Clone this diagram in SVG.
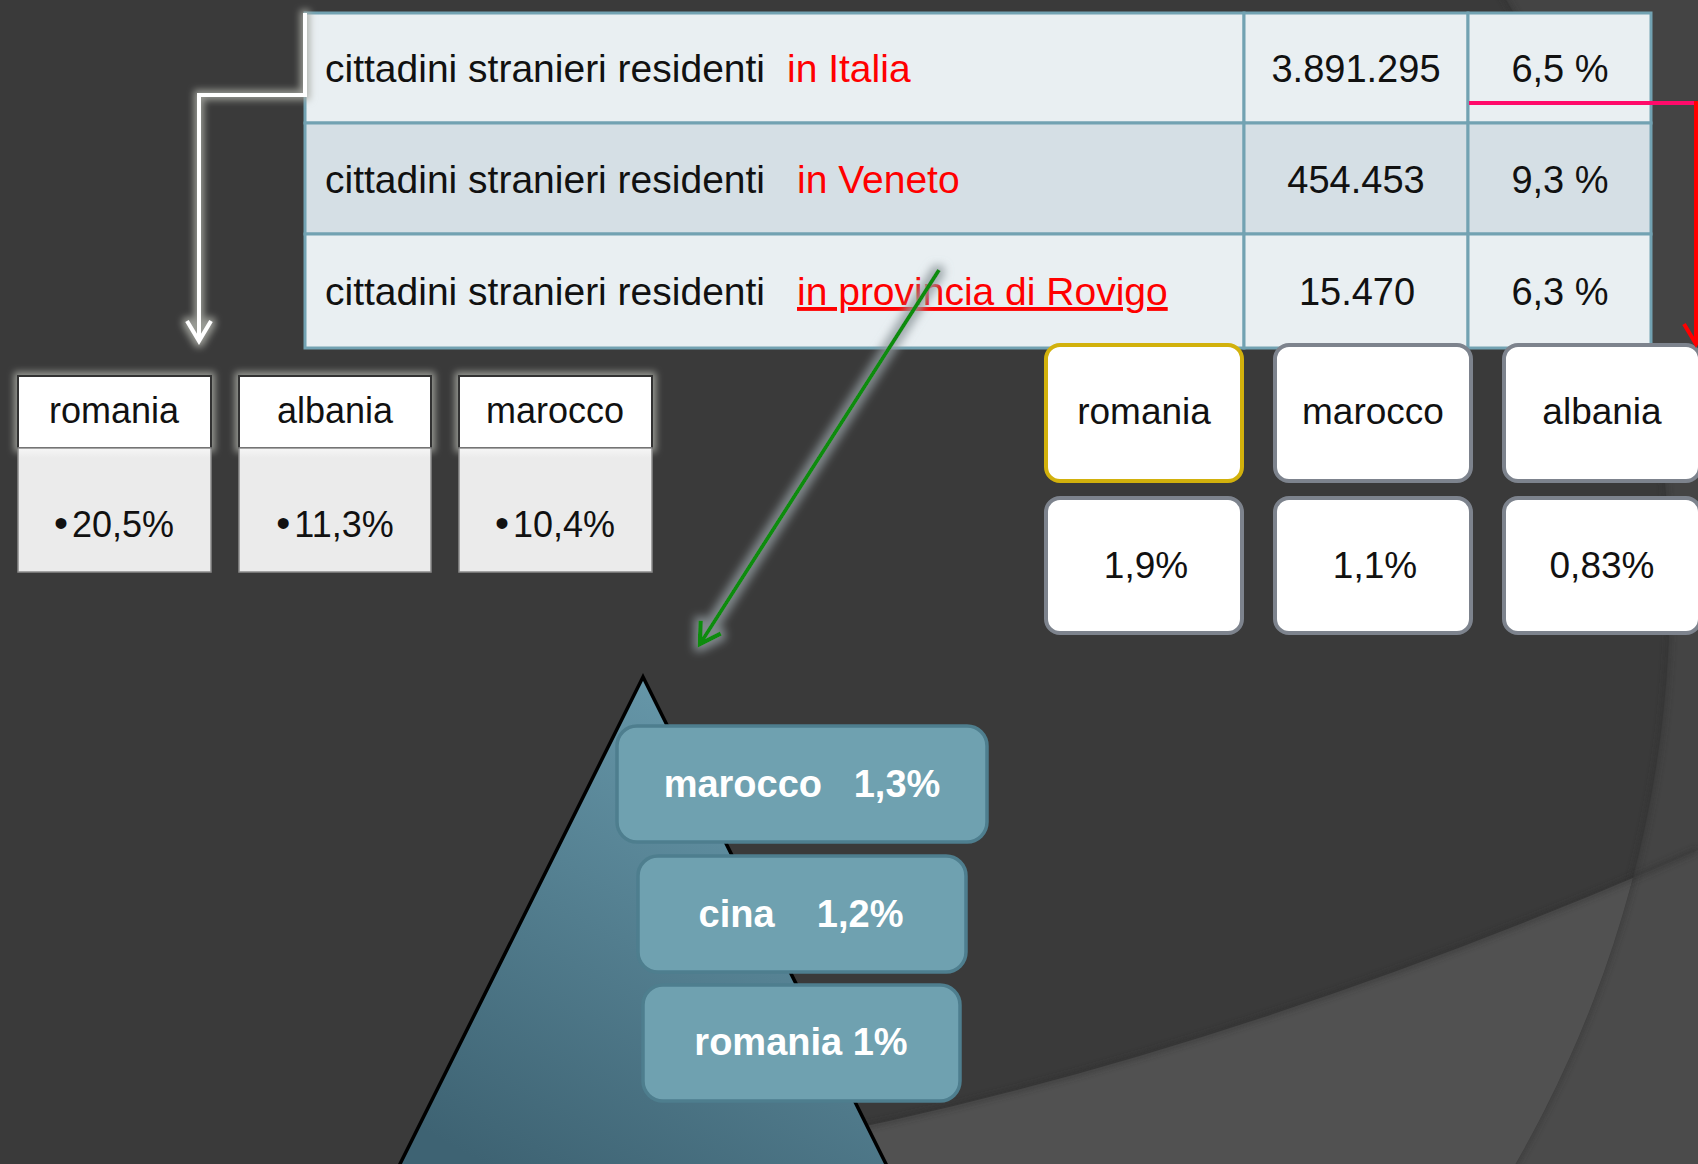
<svg xmlns="http://www.w3.org/2000/svg" width="1698" height="1164" viewBox="0 0 1698 1164">
<defs>
<style>
text{font-family:"Liberation Sans",Arial,sans-serif;}
.cell1{fill:#e9eff2;stroke:#72a2b2;stroke-width:3;}
.cell2{fill:#d5dfe5;stroke:#72a2b2;stroke-width:3;}
.tt{font-size:39px;fill:#111;}
.num{font-size:38px;fill:#111;text-anchor:middle;}
.red{fill:#ff0000;}
.hdr{fill:#ffffff;stroke:#333333;stroke-width:2;}
.body{fill:url(#bodyGrad);stroke:#8a8a8a;stroke-width:1.5;}
.lbl{font-size:36px;fill:#111;text-anchor:middle;}
.bul{font-size:40px;}
.rbox{fill:#ffffff;stroke:#7d838d;stroke-width:4;}
.gold{stroke:#d2b10c;}
.rlbl{font-size:37px;fill:#111;text-anchor:middle;}
.pbox{fill:#6fa1b0;stroke:#4e7e8e;stroke-width:3.5;}
.plbl{font-size:38px;font-weight:bold;fill:#ffffff;text-anchor:middle;}
.conn{fill:none;stroke-width:4;}
</style>
<linearGradient id="bodyGrad" x1="0" y1="0" x2="0" y2="1">
<stop offset="0" stop-color="#f6f6f6"/>
<stop offset="0.08" stop-color="#ebebeb"/>
<stop offset="1" stop-color="#ebebeb"/>
</linearGradient>
<linearGradient id="pyrGrad" x1="0.75" y1="0" x2="0.2" y2="1">
<stop offset="0" stop-color="#6a9cae"/>
<stop offset="1" stop-color="#3e6373"/>
</linearGradient>
<clipPath id="circClip"><ellipse cx="357" cy="590" rx="1313" ry="1220"/></clipPath>
<filter id="glow" filterUnits="userSpaceOnUse" x="0" y="0" width="1698" height="1164">
<feMorphology in="SourceAlpha" operator="dilate" radius="3" result="d"/>
<feGaussianBlur in="d" stdDeviation="3.5" result="b"/>
<feFlood flood-color="#a9aba4" flood-opacity="0.85"/>
<feComposite in2="b" operator="in" result="g"/>
<feMerge><feMergeNode in="g"/><feMergeNode in="SourceGraphic"/></feMerge>
</filter>
<filter id="glowG" filterUnits="userSpaceOnUse" x="0" y="0" width="1698" height="1164">
<feMorphology in="SourceAlpha" operator="dilate" radius="4" result="d"/>
<feGaussianBlur in="d" stdDeviation="4" result="b"/>
<feFlood flood-color="#909a9e" flood-opacity="0.8"/>
<feComposite in2="b" operator="in" result="g"/>
<feMerge><feMergeNode in="g"/><feMergeNode in="SourceGraphic"/></feMerge>
</filter>
<filter id="soft" x="-10%" y="-10%" width="120%" height="120%">
<feGaussianBlur stdDeviation="3"/>
</filter>
<marker id="arrW" markerUnits="userSpaceOnUse" viewBox="-26 -15 30 30" refX="0" refY="0" markerWidth="30" markerHeight="30" orient="auto" overflow="visible">
<path d="M-20,-12 L0,0 L-20,12" fill="none" stroke="#ffffff" stroke-width="4"/>
</marker>
<marker id="arrR" markerUnits="userSpaceOnUse" viewBox="-26 -15 30 30" refX="0" refY="0" markerWidth="30" markerHeight="30" orient="auto" overflow="visible">
<path d="M-20,-12 L0,0 L-20,12" fill="none" stroke="#ff0000" stroke-width="4"/>
</marker>
<marker id="arrG" markerUnits="userSpaceOnUse" viewBox="-26 -15 30 30" refX="0" refY="0" markerWidth="30" markerHeight="30" orient="auto" overflow="visible">
<path d="M-20,-12 L0,0 L-20,12" fill="none" stroke="#0a8c0a" stroke-width="4.5"/>
</marker>
</defs>

<g id="background">
<rect x="0" y="0" width="1698" height="1164" fill="#444444"/>
<path d="M660 1164 Q1150 1090 1698 850 L1698 1164 Z" fill="#4b4b4b"/>
<ellipse cx="357" cy="590" rx="1313" ry="1220" fill="#3a3a3a"/>
<ellipse cx="357" cy="590" rx="1313" ry="1220" fill="none" stroke="#2e2e2e" stroke-width="4" opacity="0.6" filter="url(#soft)"/>
<path d="M660 1164 Q1150 1090 1698 850 L1698 1164 Z" fill="#515151" clip-path="url(#circClip)"/>
<path d="M660 1164 Q1150 1090 1698 850" fill="none" stroke="#2c2c2c" stroke-width="4" opacity="0.6" filter="url(#soft)"/>
</g>

<g id="table">
<rect class="cell1" x="305" y="13" width="939" height="110"/>
<rect class="cell1" x="1244" y="13" width="224" height="110"/>
<rect class="cell1" x="1468" y="13" width="183" height="110"/>
<rect class="cell2" x="305" y="123" width="939" height="111"/>
<rect class="cell2" x="1244" y="123" width="224" height="111"/>
<rect class="cell2" x="1468" y="123" width="183" height="111"/>
<rect class="cell1" x="305" y="234" width="939" height="114"/>
<rect class="cell1" x="1244" y="234" width="224" height="114"/>
<rect class="cell1" x="1468" y="234" width="183" height="114"/>
<text class="tt" x="325" y="82">cittadini stranieri residenti <tspan class="red" x="787">in Italia</tspan></text>
<text class="tt" x="325" y="193">cittadini stranieri residenti <tspan class="red" x="797">in Veneto</tspan></text>
<text class="tt" x="325" y="305">cittadini stranieri residenti <tspan class="red" x="797" text-decoration="underline">in provincia di Rovigo</tspan></text>
<text class="num" x="1356" y="82">3.891.295</text>
<text class="num" x="1560" y="82">6,5 %</text>
<text class="num" x="1356" y="193">454.453</text>
<text class="num" x="1560" y="193">9,3 %</text>
<text class="num" x="1357" y="305">15.470</text>
<text class="num" x="1560" y="305">6,3 %</text>
</g>

<g id="italy-romania">
<rect class="hdr" x="18" y="376" width="193" height="72" filter="url(#glow)"/>
<rect class="body" x="18" y="448" width="193" height="124"/>
<text class="lbl" x="114" y="423">romania</text>
<text class="lbl" x="114" y="537"><tspan class="bul">•</tspan><tspan dx="4">20,5%</tspan></text>
</g>
<g id="italy-albania">
<rect class="hdr" x="239" y="376" width="192" height="72" filter="url(#glow)"/>
<rect class="body" x="239" y="448" width="192" height="124"/>
<text class="lbl" x="335" y="423">albania</text>
<text class="lbl" x="335" y="537"><tspan class="bul">•</tspan><tspan dx="4">11,3%</tspan></text>
</g>
<g id="italy-marocco">
<rect class="hdr" x="459" y="376" width="193" height="72" filter="url(#glow)"/>
<rect class="body" x="459" y="448" width="193" height="124"/>
<text class="lbl" x="555" y="423">marocco</text>
<text class="lbl" x="555" y="537"><tspan class="bul">•</tspan><tspan dx="4">10,4%</tspan></text>
</g>

<g id="veneto-romania">
<rect class="rbox gold" x="1046" y="345" width="196" height="136" rx="14"/>
<rect class="rbox" x="1046" y="498" width="196" height="135" rx="14"/>
<text class="rlbl" x="1144" y="424">romania</text>
<text class="rlbl" x="1146" y="578">1,9%</text>
</g>
<g id="veneto-marocco">
<rect class="rbox" x="1275" y="345" width="196" height="136" rx="14"/>
<rect class="rbox" x="1275" y="498" width="196" height="135" rx="14"/>
<text class="rlbl" x="1373" y="424">marocco</text>
<text class="rlbl" x="1375" y="578">1,1%</text>
</g>
<g id="veneto-albania">
<rect class="rbox" x="1504" y="345" width="196" height="136" rx="14"/>
<rect class="rbox" x="1504" y="498" width="196" height="135" rx="14"/>
<text class="rlbl" x="1602" y="424">albania</text>
<text class="rlbl" x="1602" y="578">0,83%</text>
</g>

<g id="rovigo-pyramid">
<polygon points="643,677 397,1170 889,1170" fill="url(#pyrGrad)" stroke="#000000" stroke-width="3.5" stroke-linejoin="miter"/>
</g>
<g id="rovigo-marocco">
<rect class="pbox" x="617" y="726" width="370" height="116" rx="20"/>
<text class="plbl" x="802" y="797" xml:space="preserve">marocco   1,3%</text>
</g>
<g id="rovigo-cina">
<rect class="pbox" x="638" y="856" width="328" height="116" rx="20"/>
<text class="plbl" x="801" y="927" xml:space="preserve">cina    1,2%</text>
</g>
<g id="rovigo-romania">
<rect class="pbox" x="643" y="985" width="317" height="116" rx="20"/>
<text class="plbl" x="801" y="1055">romania 1%</text>
</g>

<g id="connectors">
<path class="conn" d="M305 13 L305 95 L199 95 L199 341" stroke="#ffffff" marker-end="url(#arrW)" filter="url(#glow)"/>
<path class="conn" d="M1469 103 L1696 103" stroke="#ff0a6a"/>
<path class="conn" d="M1696 101 L1696 344" stroke="#ff0000" marker-end="url(#arrR)"/>
<path class="conn" d="M939 270 L700 644" stroke="#0a8c0a" stroke-width="4.5" marker-end="url(#arrG)" filter="url(#glowG)"/>
</g>
</svg>
